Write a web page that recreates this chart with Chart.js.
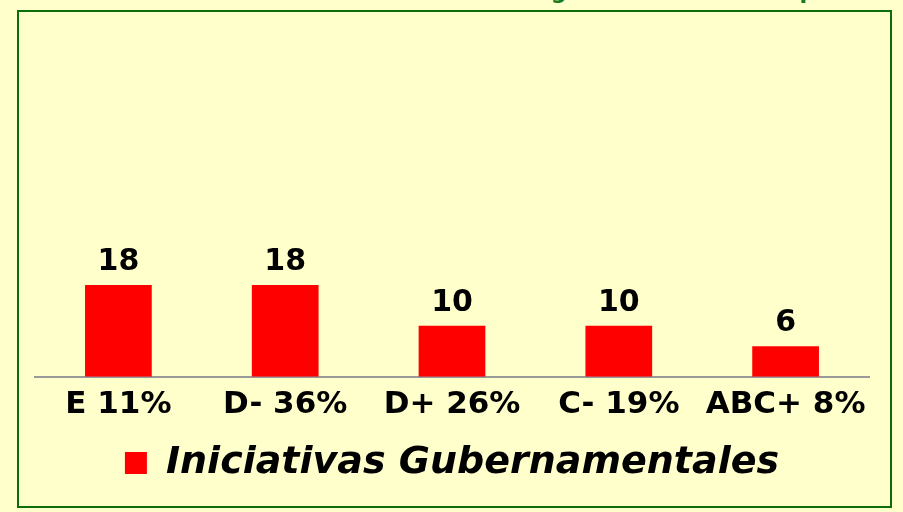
<!DOCTYPE html>
<html>
<head>
<meta charset="utf-8">
<script src="https://cdn.jsdelivr.net/npm/chart.js@4"></script>
<style>
  html, body { margin: 0; padding: 0; background: #FFFFCC; overflow: hidden; }
  #wrap { position: relative; width: 903px; height: 512px; }
  #frame { position: absolute; left: 17px; top: 10px; width: 871px; height: 494px; border: 2px solid #0b6e0b; pointer-events: none; }
  #title { position: absolute; left: 520px; top: -21px; font: bold 22px "DejaVu Sans"; color: #1a7a1a; white-space: nowrap; }
  canvas { position: absolute; left: 0; top: 0; }
</style>
</head>
<body>
<div id="wrap">
  <div id="title">Segmento del estudio por nivel</div>
  <canvas id="chart" width="903" height="512"></canvas>
  <div id="frame"></div>
</div>
<script>
// categories and values
const categories = ['E 11%', 'D- 36%', 'D+ 26%', 'C- 19%', 'ABC+ 8%']
const gubernamentales = [18, 18, 10, 10, 6]
const seriesName = 'Iniciativas Gubernamentales'

// draw the number above each bar
const barLabels = {
    id: 'barLabels',
    afterDatasetsDraw(chart) {
        const ctx = chart.ctx
        const meta = chart.getDatasetMeta(0)
        ctx.save()
        ctx.font = 'bold 30px "DejaVu Sans"'
        ctx.fillStyle = '#000'
        ctx.textAlign = 'center'
        ctx.textBaseline = 'bottom'
        meta.data.forEach((bar, i) => {
            ctx.fillText(String(gubernamentales[i]), bar.x, bar.y - 8)
        })
        ctx.restore()
    }
}

const ctx = document.getElementById('chart').getContext('2d')
const myChart = new Chart(ctx, {
    type: 'bar',
    data: {
        labels: categories,
        datasets: [{
            label: seriesName,
            data: gubernamentales,
            backgroundColor: '#FF0000',
            borderWidth: 0,
            barPercentage: 0.4,
            categoryPercentage: 1.0,
        }]
    },
    options: {
        responsive: false,
        animation: false,
        layout: {
            padding: { left: 35, right: 34, top: 20, bottom: 20 }
        },
        plugins: {
            legend: {
                position: 'bottom',
                labels: {
                    boxWidth: 22,
                    boxHeight: 22,
                    padding: 10,
                    color: '#000',
                    font: { family: 'DejaVu Sans', size: 38, weight: 'bold', style: 'italic' }
                }
            },
            tooltip: { enabled: false }
        },
        scales: {
            x: {
                grid: { display: false, drawTicks: false },
                border: { display: true, color: '#999999', width: 2 },
                ticks: {
                    color: '#000',
                    padding: 10,
                    font: { family: 'DejaVu Sans', size: 31, weight: 'bold' }
                }
            },
            y: {
                display: false,
                min: 0,
                max: 70
            }
        }
    },
    plugins: [barLabels]
})
</script>
</body>
</html>
